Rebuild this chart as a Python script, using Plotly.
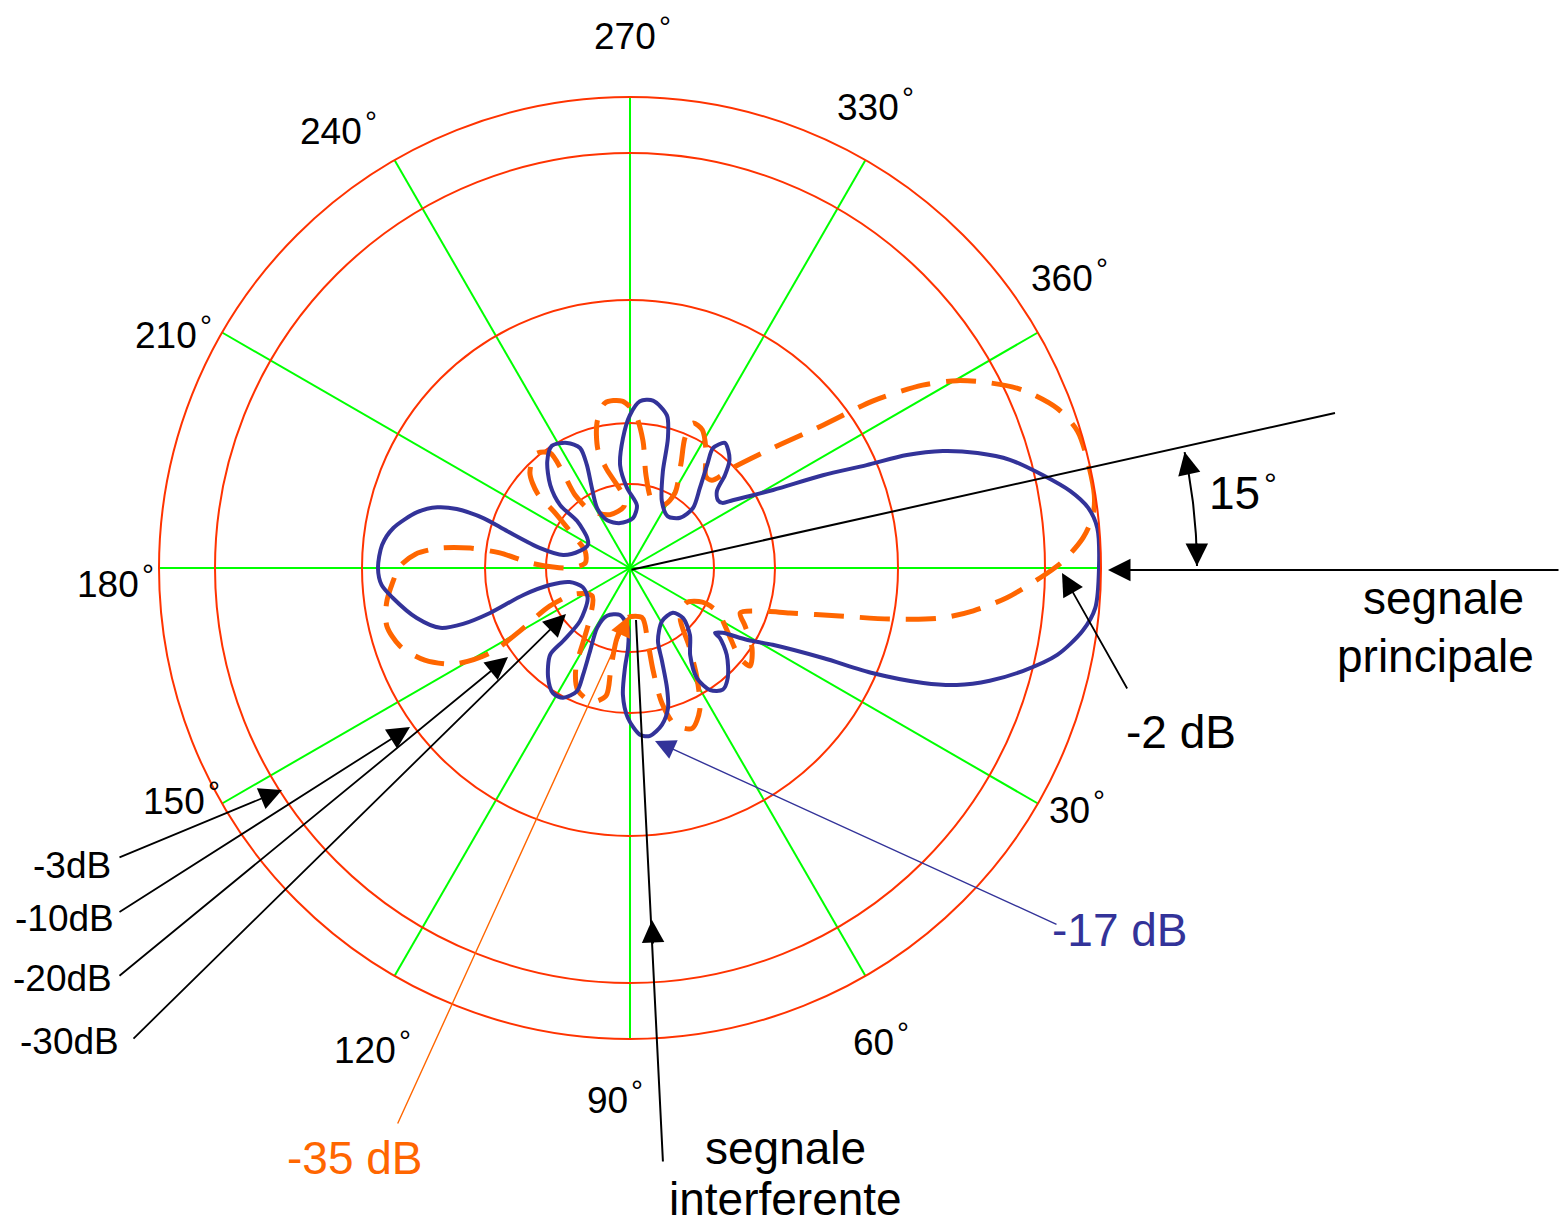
import numpy as np
import plotly.graph_objects as go

W, H = 1562, 1228
FONT = "Liberation Sans, Arial, sans-serif"

# ---------------- data (polar samples: angle clockwise from east, radius in chart units) -------------
blue_theta = [0, 355.1, 352.5, 350.1, 347.3, 344.1, 341.7, 339.5, 337.8, 336.5, 334.3, 331.4, 326.6, 324.8,
              322.3, 318.5, 315.6, 312.9, 310.0, 307.2, 304.7, 306.8, 311.2, 316.4, 315, 306.2, 295.5, 288.8,
              286.3, 283.6, 277.8, 273.4, 270, 266.9, 264.5, 267.9, 276.3, 273.4, 257.5, 244.4, 241.2, 244.6,
              247.3, 247.4, 243.3, 237.4, 232.2, 226.1, 222, 221.6, 214.9, 208.7, 198.8, 191, 192.5, 196.7,
              198.8, 198.8, 197.5, 194.7, 189.6, 185.3, 180, 176.1, 172.8, 166.8, 162.5, 161.5, 162.2, 165.8,
              168, 166.9, 158, 144.5, 133.3, 132.5, 132.6, 126.7, 121.6, 117.3, 113.3, 113.7, 115.7, 118.8,
              115.6, 102, 91.9, 91.4, 92.9, 93.2, 90.8, 86.6, 83.2, 78.5, 74.8, 72.9, 71, 69, 58.9, 46.3, 43.3,
              48.2, 55.4, 58.7, 56.7, 52.7, 48.3, 41.9, 37.9, 37.4, 35, 31.6, 28.3, 25, 23.4, 21.4, 19.7, 17.4,
              14.7, 11.5, 7.9, 4.9, 0]
blue_r = [469, 469, 462, 447, 423, 395, 366, 334, 299, 258, 214, 163, 123, 113,
          111, 116, 133, 146, 153, 157, 146, 129, 106, 87, 71, 64, 74, 102,
          135, 157, 169, 167, 153, 130, 103, 80, 63, 50, 46, 53, 68, 89,
          112, 130, 140, 145, 135, 115, 94, 71, 52, 48, 53, 68, 92, 128,
          155, 183, 202, 220, 240, 249, 252, 249, 239, 219, 199, 176, 147, 110,
          82, 62, 51, 52, 73, 99, 118, 137, 147, 146, 134, 117, 92, 68,
          53, 48, 60, 80, 100, 127, 150, 167, 169, 160, 145, 126, 98, 78, 62, 62, 73,
          90, 106, 129, 146, 153, 147, 130, 114, 107, 113, 137, 162, 213, 265, 315, 347, 377,
          406, 436, 457, 467, 469]

orange_theta = [353.5, 351.1, 346.9, 343, 339.5, 335.6, 332.8, 330.2, 328, 325.5, 323.5, 320, 315.8, 313,
                309.6, 303.5, 297.6, 293.5, 292.9, 295.9, 301, 298.4, 288.2, 279.8, 275.8, 271.8, 267.3,
                261.4, 257.2, 254.8, 256.8, 263.9, 264.5, 249.3, 235.4, 233, 235, 235.2, 230.5, 223.5,
                218.9, 216.3, 210.1, 200.7, 186.3, 180, 180.7, 182.9, 186.6, 187.1, 186, 183.7, 180.5,
                176.4, 171.8, 166.6, 161.3, 155.8, 151.3, 148.7, 150.2, 154.6, 154.7, 143.6, 128.7, 122.1,
                118.4, 113.1, 105.8, 100.6, 100.8, 100.5, 93.4, 76.5, 76.5, 77.3, 76.7, 74, 68.8, 63.8,
                58.7, 52.9, 45, 32, 25.3, 26.6, 33.6, 39.3, 39.2, 33.3, 26.8, 22.2, 18.7, 15.7, 12.9,
                11.1, 9.2, 7.1, 4.5, 1.4, 359.1, 356.2, 353.5]
orange_r = [466, 470, 470, 468, 456, 431, 405, 377, 345, 295, 240, 187, 144, 120,
            119, 138, 156, 158, 141, 117, 87, 72, 71, 94, 128, 155, 167,
            167, 149, 122, 101, 75, 62, 57, 70, 91, 118, 140, 148, 138,
            119, 93, 66, 48, 45, 60, 77, 100, 131, 161, 191, 215, 230,
            238, 246, 250, 243, 225, 200, 164, 127, 89, 61, 47, 64, 89,
            114, 133, 139, 130, 102, 71, 50, 51, 77, 105, 139, 163, 172, 158,
            129, 98, 71, 66, 80, 98, 118, 142, 155, 146, 129, 119, 134, 166, 215,
            265, 314, 346, 378, 410, 433, 454, 466]

ring_r = [84, 145, 268, 415]          # inner level circles
outer_r = 471                         # outer circle
spoke_step = 30

angle_labels = ["270", "330", "360", "30", "60", "90", "120", "150", "180", "210", "240"]
db_labels = ["-3dB", "-10dB", "-20dB", "-30dB"]

# ---------------- geometry of the drawing (layout) ----------------
CX, CY = 630, 568
x_dom = [(CX - outer_r) / W, (CX + outer_r) / W]
y_dom = [(H - CY - outer_r) / H, (H - CY + outer_r) / H]

fig = go.Figure()

fig.add_trace(go.Scatterpolar(
    r=orange_r, theta=orange_theta, mode="lines", cliponaxis=False,
    line=dict(color="#FF6600", width=5, dash="30px,16px", shape="spline", smoothing=0.8),
    hoverinfo="skip", showlegend=False))
fig.add_trace(go.Scatterpolar(
    r=blue_r, theta=blue_theta, mode="lines", cliponaxis=False,
    line=dict(color="#333399", width=4, shape="spline", smoothing=0.8),
    hoverinfo="skip", showlegend=False))

# 15 degree arc (cartesian overlay, around the pattern centre)
arc_r = 567
arc_a = np.linspace(0.4, 12.0, 40)
arc_x = CX + arc_r * np.cos(np.radians(arc_a))
arc_y = 570 - arc_r * np.sin(np.radians(arc_a))
fig.add_trace(go.Scatter(x=arc_x, y=arc_y, mode="lines", line=dict(color="black", width=2),
                         hoverinfo="skip", showlegend=False, xaxis="x", yaxis="y"))

ann = []


def arrow(tip, tail, color="black", width=1.8, size=2.5, head=2):
    ann.append(dict(x=tip[0], y=tip[1], ax=tail[0], ay=tail[1], xref="x", yref="y",
                    axref="x", ayref="y", text="", showarrow=True, arrowhead=head,
                    arrowsize=size, arrowwidth=width, arrowcolor=color))


def label(txt, x, y, size=37, color="black", xanchor="center"):
    ann.append(dict(x=x, y=y, xref="x", yref="y", text=txt, showarrow=False,
                    xanchor=xanchor, yanchor="middle",
                    font=dict(family=FONT, size=size, color=color)))


# arc arrow heads
a_end = np.radians(arc_a[-1])
tip_top = (CX + arc_r * np.cos(a_end), 570 - arc_r * np.sin(a_end))
arrow(tip_top, (tip_top[0] + 24 * np.sin(a_end), tip_top[1] + 24 * np.cos(a_end)))
a_st = np.radians(arc_a[0])
tip_bot = (CX + arc_r * np.cos(a_st), 570 - arc_r * np.sin(a_st))
arrow(tip_bot, (tip_bot[0] - 24 * np.sin(a_st), tip_bot[1] - 24 * np.cos(a_st)))

# straight lines / arrows
arrow((1335, 413), (630, 570), head=0, width=2)            # 15 deg direction
arrow((1108, 570), (1560, 570))                            # segnale principale
arrow((1062, 573), (1128, 690))                            # -2 dB
arrow((655, 741), (1058, 925), color="#333399", width=1.4, size=2.9)   # -17 dB
arrow((629, 616), (397, 1125), color="#FF6600", width=1.4, size=2.9)   # -35 dB
arrow((636, 620), (663, 1163), head=0, width=2)            # segnale interferente line
arrow((652, 920), (653.2, 945))                            # its arrow head
arrow((282, 790), (118, 858))                              # -3dB
arrow((410, 727), (118, 913))                              # -10dB
arrow((508, 657), (118, 977))                              # -20dB
arrow((566, 614), (132, 1040))                             # -30dB

# angle labels
lab_pos = [(625, 36), (868, 107), (1062, 278), (1069, 810), (873, 1042), (607, 1100),
           (365, 1050), (174, 801), (108, 584), (166, 335), (331, 131)]
for t, (x, y) in zip(angle_labels, lab_pos):
    label(t, x, y)
    nd = len(t)
    label("°", x + nd * 10.3 + 9, y - 10, size=30)

# dB labels on the left
for t, (x, y) in zip(db_labels, [(113, 865), (116, 918), (114, 978), (121, 1041)]):
    label(t, x, y, xanchor="right")

label("15", 1234, 493, size=46)
label("°", 1270, 484, size=32)
label("segnale", 1443, 598, size=46)
label("principale", 1435, 656, size=46)
label("-2 dB", 1181, 732, size=46)
label("-17 dB", 1120, 930, size=46, color="#333399")
label("-35 dB", 355, 1158, size=46, color="#FF6600")
label("segnale", 785, 1148, size=46)
label("interferente", 785, 1199, size=46)

fig.update_layout(
    width=W, height=H, autosize=False,
    margin=dict(l=0, r=0, t=0, b=0, pad=0),
    paper_bgcolor="white", plot_bgcolor="rgba(0,0,0,0)",
    showlegend=False,
    xaxis=dict(range=[0, W], domain=[0, 1], visible=False, fixedrange=True),
    yaxis=dict(range=[H, 0], domain=[0, 1], visible=False, fixedrange=True),
    polar=dict(
        domain=dict(x=x_dom, y=y_dom),
        bgcolor="rgba(0,0,0,0)",
        radialaxis=dict(range=[0, outer_r], tickvals=ring_r, showticklabels=False, ticks="",
                        showline=False, showgrid=True, gridcolor="#FF3300", gridwidth=2),
        angularaxis=dict(direction="clockwise", rotation=0, tickmode="linear", dtick=spoke_step,
                         showticklabels=False, ticks="", showline=True, linecolor="#FF3300",
                         linewidth=2, showgrid=True, gridcolor="#00FF00", gridwidth=2),
    ),
    annotations=ann,
)

fig.write_html("out.html", config={"displayModeBar": False},
               post_script="document.body.style.margin='0px';document.body.style.overflow='hidden';")
